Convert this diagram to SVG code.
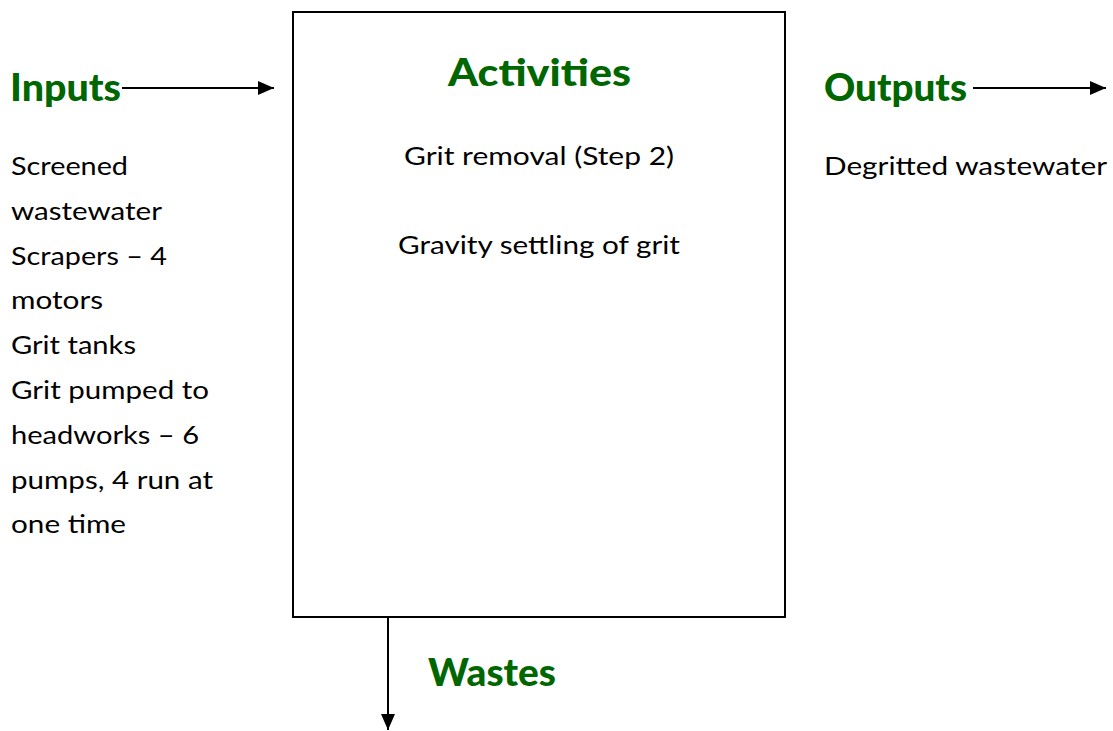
<svg xmlns="http://www.w3.org/2000/svg" width="1113" height="731" viewBox="0 0 1113 731">
<defs>
<style>
.h{font-family:Lato,"Open Sans","Liberation Sans",sans-serif;font-weight:900;font-size:38px;fill:#006600}
.t{font-family:Lato,"Open Sans","Liberation Sans",sans-serif;font-size:24.5px;fill:#000}
.c{stroke:#000;stroke-width:2;fill:none}
</style>
<marker id="ah" viewBox="0 0 16 14" refX="16" refY="7" markerWidth="16" markerHeight="14" markerUnits="userSpaceOnUse" orient="auto">
<path d="M0,0 L16,7 L0,14 Z" fill="#000"/>
</marker>
</defs>
<rect width="1113" height="731" fill="#fff"/>
<g id="activities">
<rect x="293" y="12" width="492" height="605" fill="#fff" stroke="#000" stroke-width="2"/>
<text class="h" x="448" y="86" textLength="183" lengthAdjust="spacingAndGlyphs">Activities</text>
<text class="t" x="404" y="165" textLength="270" lengthAdjust="spacingAndGlyphs">Grit removal (Step 2)</text>
<text class="t" x="398" y="254" textLength="282" lengthAdjust="spacingAndGlyphs">Gravity settling of grit</text>
</g>
<g id="inputs">
<text class="h" x="10" y="101" textLength="111" lengthAdjust="spacingAndGlyphs">Inputs</text>
<text class="t" x="11" y="175" textLength="117" lengthAdjust="spacingAndGlyphs">Screened</text>
<text class="t" x="11" y="220" textLength="151" lengthAdjust="spacingAndGlyphs">wastewater</text>
<text class="t" x="11" y="265" textLength="156" lengthAdjust="spacingAndGlyphs">Scrapers – 4</text>
<text class="t" x="11" y="309" textLength="92" lengthAdjust="spacingAndGlyphs">motors</text>
<text class="t" x="11" y="354" textLength="125" lengthAdjust="spacingAndGlyphs">Grit tanks</text>
<text class="t" x="11" y="399" textLength="198" lengthAdjust="spacingAndGlyphs">Grit pumped to</text>
<text class="t" x="11" y="444" textLength="188" lengthAdjust="spacingAndGlyphs">headworks – 6</text>
<text class="t" x="11" y="489" textLength="202" lengthAdjust="spacingAndGlyphs">pumps, 4 run at</text>
<text class="t" x="11" y="533" textLength="115" lengthAdjust="spacingAndGlyphs">one time</text>
</g>
<g id="outputs">
<text class="h" x="824" y="101" textLength="143" lengthAdjust="spacingAndGlyphs">Outputs</text>
<text class="t" x="824" y="175" textLength="283" lengthAdjust="spacingAndGlyphs">Degritted wastewater</text>
</g>
<g id="wastes">
<text class="h" x="428" y="686" textLength="128" lengthAdjust="spacingAndGlyphs">Wastes</text>
</g>
<g id="connectors">
<line class="c" x1="122" y1="88" x2="274" y2="88" marker-end="url(#ah)"/>
<line class="c" x1="973" y1="88" x2="1106" y2="88" marker-end="url(#ah)"/>
<line class="c" x1="388" y1="617" x2="388" y2="730" marker-end="url(#ah)"/>
</g>
</svg>
